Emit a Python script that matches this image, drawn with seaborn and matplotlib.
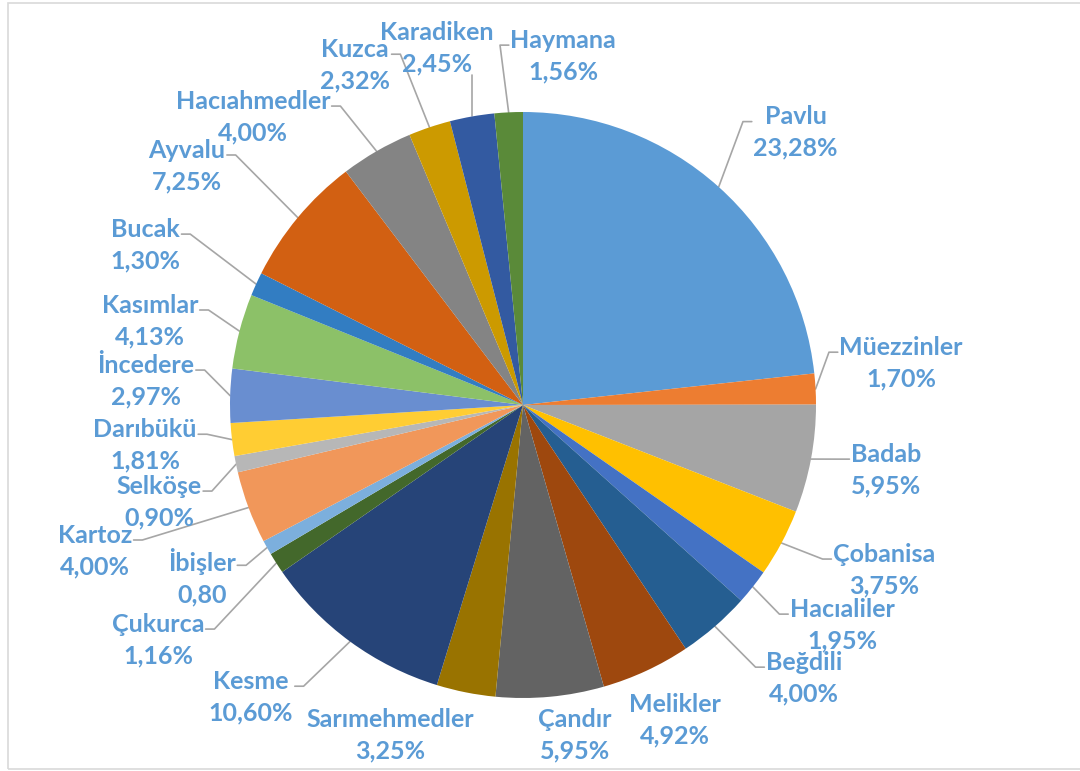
import matplotlib.pyplot as plt
import matplotlib.patches as mpatches
import seaborn as sns
import numpy as np

# data (clockwise from 12 o'clock)
villages = ["Pavlu", "Müezzinler", "Badab", "Çobanisa", "Hacıaliler", "Beğdili",
            "Melikler", "Çandır", "Sarımehmedler", "Kesme", "Çukurca", "İbişler",
            "Kartoz", "Selköşe", "Darıbükü", "İncedere", "Kasımlar", "Bucak",
            "Ayvalu", "Hacıahmedler", "Kuzca", "Karadiken", "Haymana"]
shares = [23.28, 1.70, 5.95, 3.75, 1.95, 4.00, 4.92, 5.95, 3.25, 10.60, 1.16, 0.80,
          4.00, 0.90, 1.81, 2.97, 4.13, 1.30, 7.25, 4.00, 2.32, 2.45, 1.56]
value_labels = ["23,28%", "1,70%", "5,95%", "3,75%", "1,95%", "4,00%", "4,92%",
                "5,95%", "3,25%", "10,60%", "1,16%", "0,80", "4,00%", "0,90%",
                "1,81%", "2,97%", "4,13%", "1,30%", "7,25%", "4,00%", "2,32%",
                "2,45%", "1,56%"]

colors = ["#5B9BD5", "#ED7D31", "#A5A5A5", "#FFC000", "#4472C4", "#255E91",
          "#9E480E", "#636363", "#997300", "#264478", "#43682B", "#7CAFDD",
          "#F1975A", "#B7B7B7", "#FFCD33", "#698ED0", "#8CC168", "#327DC2",
          "#D26012", "#848484", "#CC9A00", "#335AA1", "#5A8A39"]

# label block centres, in pie radius units
label_pos = [(0.93, 0.93), (1.29, 0.143), (1.239, -0.222), (1.232, -0.563),
             (1.089, -0.751), (0.959, -0.932), (0.519, -1.075), (0.177, -1.126),
             (-0.454, -1.126), (-0.928, -0.997), (-1.246, -0.802), (-1.096, -0.587),
             (-1.461, -0.498), (-1.242, -0.331), (-1.290, -0.137), (-1.287, 0.082),
             (-1.273, 0.287), (-1.290, 0.546), (-1.147, 0.816), (-0.922, 0.983),
             (-0.573, 1.160), (-0.294, 1.218), (0.137, 1.191)]
leader = [True, True, True, True, True, True, False, False, False, True, True, True,
          True, True, True, True, True, True, True, True, True, True, True]

sns.set_theme(style="white")
plt.rcParams['font.family'] = ['Lato', 'DejaVu Sans']

fig = plt.figure(figsize=(10.8, 7.71), dpi=100)
ax = fig.add_axes([0, 0, 1, 1])

ax.pie(shares, colors=colors, startangle=90, counterclock=False,
       wedgeprops=dict(linewidth=0), radius=1.0, center=(0, 0))

r_px = 293
ax.set_xlim(-523 / r_px, (1080 - 523) / r_px)
ax.set_ylim(-(771 - 405) / r_px, 405 / r_px)
ax.set_aspect('auto')
ax.axis('off')

texts = []
for name, val, (lx, ly) in zip(villages, value_labels, label_pos):
    t = ax.text(lx, ly, name + "\n" + val, ha='center', va='center',
                fontsize=18, fontweight='bold', color='#5B9BD5', linespacing=1.45)
    texts.append(t)

fig.canvas.draw()
renderer = fig.canvas.get_renderer()
inv = ax.transData.inverted()

cum = np.cumsum([0] + shares[:-1])
total = sum(shares)
stub = 0.035
for i, t in enumerate(texts):
    if not leader[i]:
        continue
    mid = (cum[i] + shares[i] / 2) / total * 2 * np.pi
    ax_, ay_ = np.sin(mid), np.cos(mid)
    bb = t.get_window_extent(renderer)
    (x0, y0), (x1, y1) = inv.transform([[bb.x0, bb.y0], [bb.x1, bb.y1]])
    h = y1 - y0
    yatt = y1 - 0.3 * h
    if ax_ > x1:
        pts = [(x1 + 0.005, yatt), (x1 + stub, yatt), (ax_, ay_)]
    elif ax_ < x0:
        pts = [(x0 - 0.005, yatt), (x0 - stub, yatt), (ax_, ay_)]
    else:
        pts = [(ax_, y0), (ax_, ay_)]
    xs, ys = zip(*pts)
    ax.plot(xs, ys, color='#a6a6a6', linewidth=1.2, zorder=0.5)

fig.patches.append(mpatches.Rectangle((8 / 1080, 2 / 771), 1.0, 766 / 771,
                                      transform=fig.transFigure, fill=False,
                                      edgecolor='#d9d9d9', linewidth=1.2))

plt.savefig("out.png", dpi=100)
plt.close()
